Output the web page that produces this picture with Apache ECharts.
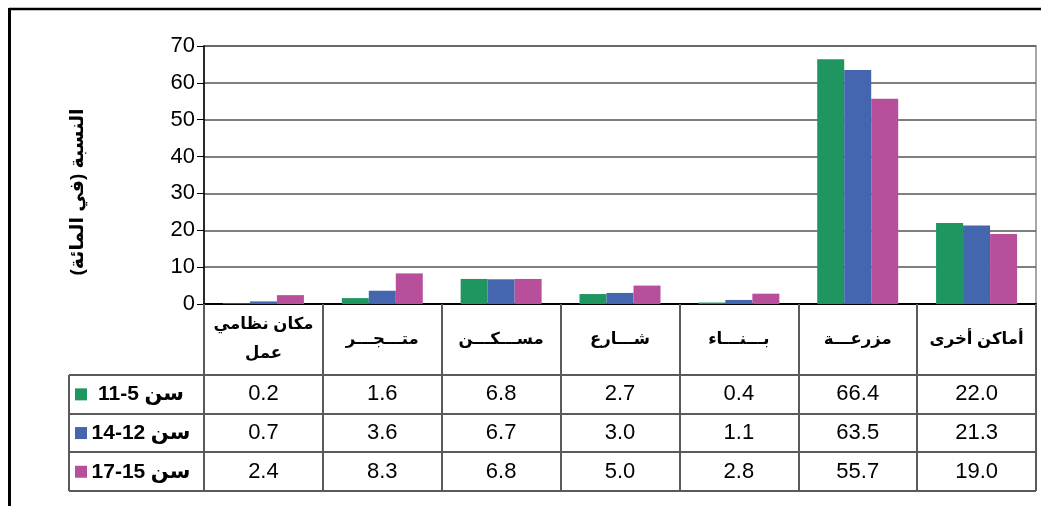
<!DOCTYPE html>
<html>
<head>
<meta charset="utf-8">
<script src="https://cdn.jsdelivr.net/npm/echarts@6/dist/echarts.min.js"></script>
<style>
html, body { margin: 0; padding: 0; background: #fff; }
#chart { width: 1041px; height: 506px; }
</style>
</head>
<body>
<div id="chart"></div>
<script>
// places where the children work
const categories = ['مكان نظامي\nعمل', 'متـــجـــر', 'مســـكـــن', 'شـــارع', 'بـــنـــاء', 'مزرعـــة', 'أماكن أخرى'];
// age groups, number part written in the order it shows on the page
const ageLabels = ['11-5', '14-12', '17-15'];
const age5to11 = [0.2, 1.6, 6.8, 2.7, 0.4, 66.4, 22.0];
const age12to14 = [0.7, 3.6, 6.7, 3.0, 1.1, 63.5, 21.3];
const age15to17 = [2.4, 8.3, 6.8, 5.0, 2.8, 55.7, 19.0];
const yAxisName = 'النسبة (في المائة)';
const yMin = 0, yMax = 70, yStep = 10;

const rows = [age5to11, age12to14, age15to17];
const colors = ['#1f9660', '#4366ae', '#b84f9a'];
const FONT = 'Liberation Sans, Arial, DejaVu Sans, sans-serif';
const HEADER_H = 71;
const ROW_H = 38.7;
const TABLE_LEFT = 69;
const lineColor = '#5a5a5a';

const chart = echarts.init(document.getElementById('chart'));

function rowAxis(values, k) {
    return {
        type: 'category',
        gridIndex: 0,
        position: 'bottom',
        data: categories,
        axisLine: { show: false },
        axisTick: { show: false },
        splitLine: { show: false },
        axisLabel: {
            interval: 0,
            margin: HEADER_H + ROW_H * k + ROW_H / 2,
            verticalAlign: 'middle',
            color: '#000',
            fontSize: 22,
            fontFamily: FONT,
            formatter: (v, i) => values[i].toFixed(1)
        }
    };
}

chart.setOption({
    animation: false,
    grid: {
        left: 204, right: 5, top: 46, bottom: 202,
        outerBoundsMode: 'none',
        show: true, borderColor: '#a8a8a8', borderWidth: 2
    },
    xAxis: [
        {
            type: 'category',
            position: 'bottom',
            data: categories,
            axisLine: { lineStyle: { color: '#000', width: 2 } },
            axisTick: {
                show: true, interval: 0, length: HEADER_H + ROW_H * 3,
                lineStyle: { color: lineColor, width: 2 }
            },
            axisLabel: {
                interval: 0,
                margin: 35,
                verticalAlign: 'middle',
                color: '#000',
                fontSize: 16.5,
                fontWeight: 'bold',
                lineHeight: 29,
                fontFamily: FONT
            }
        },
        rowAxis(age5to11, 0),
        rowAxis(age12to14, 1),
        rowAxis(age15to17, 2)
    ],
    yAxis: {
        type: 'value',
        min: yMin, max: yMax, interval: yStep,
        name: yAxisName,
        nameLocation: 'middle',
        nameGap: 117,
        nameRotate: 90,
        nameTextStyle: { color: '#000', fontSize: 19, fontWeight: 'bold', fontFamily: FONT, padding: [0, 34, 0, 0] },
        axisLine: { show: true, lineStyle: { color: '#000', width: 1.5 } },
        axisTick: { show: true, length: 7, lineStyle: { color: '#000' } },
        axisLabel: { color: '#000', fontSize: 22, fontFamily: FONT, margin: 9 },
        splitLine: { lineStyle: { color: '#555', width: 1.5 } }
    },
    series: rows.map((data, k) => ({
        type: 'bar',
        name: ageLabels[k],
        xAxisIndex: 0,
        data: data,
        barWidth: 27,
        barGap: '0%',
        itemStyle: { color: colors[k] }
    }))
});

// table lines and the age group column, placed from the axis scale
const c0 = chart.convertToPixel({ xAxisIndex: 0 }, 0);
const c1 = chart.convertToPixel({ xAxisIndex: 0 }, 1);
const band = c1 - c0;
const xLeft = c0 - band / 2;
const xRight = chart.convertToPixel({ xAxisIndex: 0 }, categories.length - 1) + band / 2;
const y0 = chart.convertToPixel({ yAxisIndex: 0 }, 0);

const graphic = [];
// outer frame
graphic.push({ type: 'line', shape: { x1: 9, y1: 9, x2: 1041, y2: 9 }, style: { stroke: '#000', lineWidth: 2.5 } });
graphic.push({ type: 'line', shape: { x1: 9.5, y1: 8, x2: 9.5, y2: 506 }, style: { stroke: '#000', lineWidth: 3 } });

for (let r = 0; r <= 3; r++) {
    const y = Math.round(y0 + HEADER_H + ROW_H * r);
    graphic.push({ type: 'line', shape: { x1: TABLE_LEFT, y1: y, x2: xRight, y2: y }, style: { stroke: lineColor, lineWidth: 2 } });
}
graphic.push({
    type: 'line',
    shape: { x1: TABLE_LEFT, y1: y0 + HEADER_H, x2: TABLE_LEFT, y2: Math.round(y0 + HEADER_H + ROW_H * 3) },
    style: { stroke: lineColor, lineWidth: 2 }
});
graphic.push({
    type: 'line',
    shape: { x1: xLeft, y1: y0, x2: xLeft, y2: Math.round(y0 + HEADER_H + ROW_H * 3) },
    style: { stroke: '#000', lineWidth: 1.5 }
});

ageLabels.forEach((lab, k) => {
    const yc = y0 + HEADER_H + ROW_H * k + ROW_H / 2;
    graphic.push({ type: 'rect', shape: { x: 75, y: yc - 6, width: 12, height: 12 }, style: { fill: colors[k] } });
    graphic.push({
        type: 'text',
        x: 141, y: yc,
        style: {
            text: '{n|' + lab + '}{s| }{a|سن}',
            align: 'center',
            verticalAlign: 'middle',
            rich: {
                n: { fontSize: 21, fontWeight: 'bold', fontFamily: FONT, fill: '#000' },
                s: { fontSize: 20, fontFamily: FONT },
                a: { fontSize: 21, fontWeight: 'bold', fontFamily: FONT, fill: '#000' }
            }
        }
    });
});

chart.setOption({ graphic: graphic });
</script>
</body>
</html>
